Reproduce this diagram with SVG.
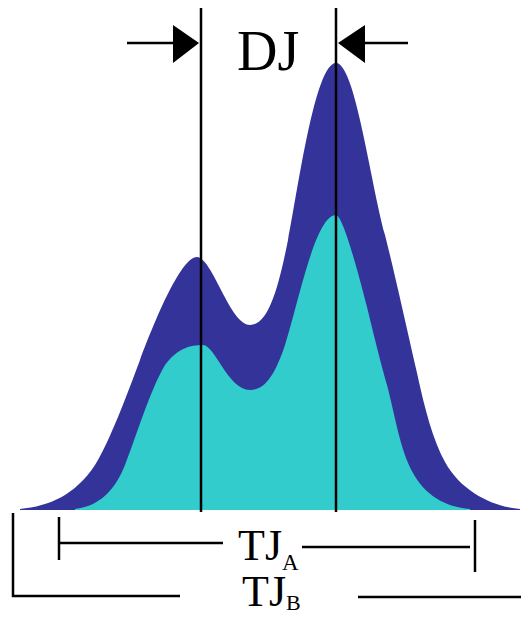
<svg xmlns="http://www.w3.org/2000/svg" width="521" height="617" viewBox="0 0 521 617">
<style>
.ln{stroke:#000;stroke-width:2.5;fill:none}
.lbl{font-family:"Liberation Serif","Times New Roman",serif;fill:#000}
</style>
<rect width="521" height="617" fill="#fff"/>
<g id="outer-curve">
<path fill="#333399" d="M20,509 C50,506 75,495 95,465 C110,440 125,400 140,360 C152,328 180,257 197,257 C212,257 230,325 250,325 C268,325 278,290 288,240 C298,190 315,63 336,63 C355,63 370,180 385,235 C395,275 405,320 417,373 C425,410 433,440 445,462 C462,493 495,507 520,509 L520,510 L20,510 Z"/>
</g>
<g id="inner-curve">
<path fill="#33cccc" d="M75,509 C100,506 115,490 125,465 C135,440 150,390 165,365 C178,348 190,345 203,345 C215,345 228,390 250,390 C265,390 275,375 285,345 C298,305 315,215 336,215 C342,215 355,260 367,307 C375,340 380,360 387,385 C395,415 400,450 413,473 C425,495 445,507 470,509 L470,510 L75,510 Z"/>
</g>
<g id="connectors">
<line class="ln" x1="201" y1="8" x2="201" y2="512"/>
<line class="ln" x1="336" y1="8" x2="336" y2="512"/>
<line class="ln" x1="127" y1="43" x2="175" y2="43"/>
<polygon points="173,25 199,43 173,63" fill="#000"/>
<line class="ln" x1="362" y1="43" x2="408" y2="43"/>
<polygon points="365,25 338,43 365,63" fill="#000"/>
<polyline class="ln" points="59,517 59,560"/>
<line class="ln" x1="59" y1="543" x2="223" y2="543"/>
<line class="ln" x1="302" y1="547" x2="470" y2="547"/>
<line class="ln" x1="475" y1="520" x2="475" y2="572"/>
<polyline class="ln" points="13,513 13,596 180,596"/>
<line class="ln" x1="358" y1="597" x2="521" y2="597"/>
</g>
<g id="label-dj"><text class="lbl" x="237" y="70" font-size="56">DJ</text></g>
<g id="label-tja"><text class="lbl" x="238" y="560" font-size="44">TJ<tspan font-size="23" dy="10">A</tspan></text></g>
<g id="label-tjb"><text class="lbl" x="242" y="606" font-size="44">TJ<tspan font-size="22" dy="4">B</tspan></text></g>
</svg>
